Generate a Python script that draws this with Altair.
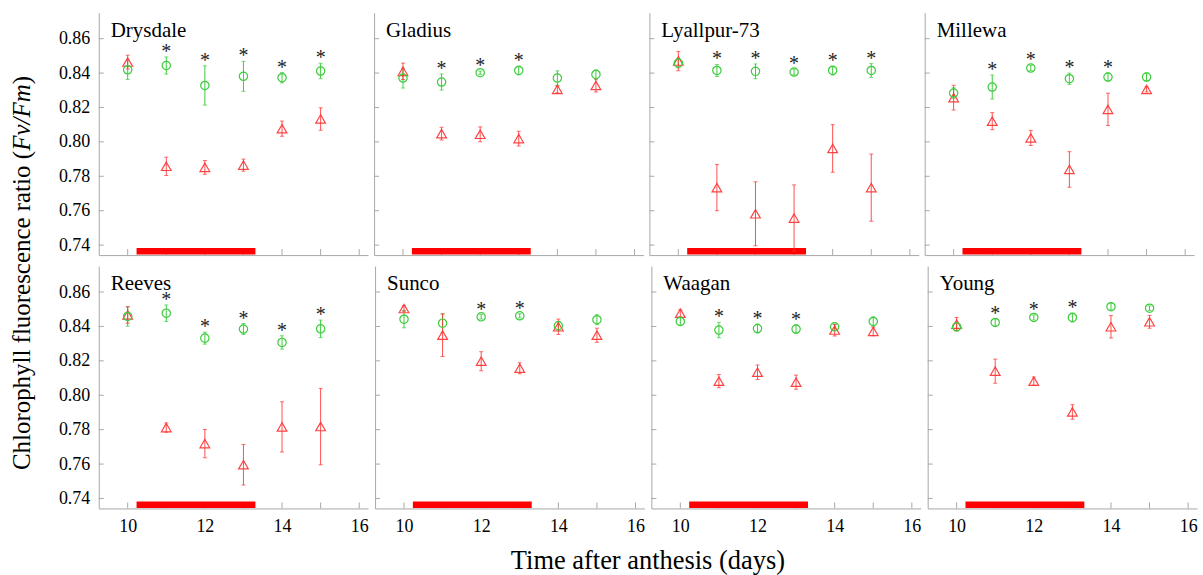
import altair as alt
import pandas as pd

cultivars = ["Drysdale", "Gladius", "Lyallpur-73", "Millewa",
             "Reeves", "Sunco", "Waagan", "Young"]
days = [10, 11, 12, 13, 14, 15]

control_mean = {
    "Drysdale":    [0.8419, 0.8444, 0.8328, 0.8381, 0.8373, 0.8412],
    "Gladius":     [0.8371, 0.8348, 0.8402, 0.8415, 0.8371, 0.8392],
    "Lyallpur-73": [0.8458, 0.8415, 0.8410, 0.8406, 0.8415, 0.8415],
    "Millewa":     [0.8284, 0.8319, 0.8429, 0.8367, 0.8377, 0.8377],
    "Reeves":      [0.8458, 0.8477, 0.8332, 0.8385, 0.8307, 0.8386],
    "Sunco":       [0.8442, 0.8419, 0.8456, 0.8462, 0.8404, 0.8439],
    "Waagan":      [0.8429, 0.8379, 0.8388, 0.8385, 0.8398, 0.8429],
    "Young":       [0.8398, 0.8423, 0.8452, 0.8452, 0.8515, 0.8506],
}
control_err = {
    "Drysdale":    [0.0056, 0.0050, 0.0114, 0.0087, 0.0030, 0.0045],
    "Gladius":     [0.0058, 0.0047, 0.0010, 0.0025, 0.0042, 0.0027],
    "Lyallpur-73": [0.0028, 0.0035, 0.0043, 0.0017, 0.0026, 0.0040],
    "Millewa":     [0.0030, 0.0070, 0.0016, 0.0033, 0.0023, 0.0023],
    "Reeves":      [0.0056, 0.0048, 0.0035, 0.0032, 0.0039, 0.0051],
    "Sunco":       [0.0050, 0.0054, 0.0013, 0.0012, 0.0025, 0.0029],
    "Waagan":      [0.0022, 0.0045, 0.0026, 0.0024, 0.0013, 0.0027],
    "Young":       [0.0020, 0.0020, 0.0015, 0.0026, 0.0019, 0.0013],
}
stress_mean = {
    "Drysdale":    [0.8464, 0.7858, 0.7852, 0.7865, 0.8077, 0.8133],
    "Gladius":     [0.8410, 0.8048, 0.8044, 0.8019, 0.8305, 0.8328],
    "Lyallpur-73": [0.8470, 0.7734, 0.7582, 0.7557, 0.7962, 0.7734],
    "Millewa":     [0.8257, 0.8120, 0.8023, 0.7840, 0.8189, 0.8305],
    "Reeves":      [0.8467, 0.7812, 0.7719, 0.7596, 0.7816, 0.7818],
    "Sunco":       [0.8504, 0.8349, 0.8198, 0.8157, 0.8398, 0.8349],
    "Waagan":      [0.8477, 0.8082, 0.8134, 0.8076, 0.8379, 0.8371],
    "Young":       [0.8413, 0.8140, 0.8082, 0.7903, 0.8398, 0.8427],
}
stress_err = {
    "Drysdale":    [0.0040, 0.0053, 0.0040, 0.0035, 0.0044, 0.0065],
    "Gladius":     [0.0048, 0.0037, 0.0043, 0.0043, 0.0020, 0.0038],
    "Lyallpur-73": [0.0056, 0.0135, 0.0186, 0.0193, 0.0138, 0.0195],
    "Millewa":     [0.0072, 0.0050, 0.0044, 0.0103, 0.0094, 0.0015],
    "Reeves":      [0.0048, 0.0027, 0.0082, 0.0118, 0.0146, 0.0222],
    "Sunco":       [0.0016, 0.0124, 0.0055, 0.0032, 0.0045, 0.0041],
    "Waagan":      [0.0020, 0.0039, 0.0042, 0.0041, 0.0034, 0.0025],
    "Young":       [0.0039, 0.0070, 0.0024, 0.0042, 0.0065, 0.0037],
}
significant = {
    "Drysdale":    [0, 1, 1, 1, 1, 1],
    "Gladius":     [0, 1, 1, 1, 0, 0],
    "Lyallpur-73": [0, 1, 1, 1, 1, 1],
    "Millewa":     [0, 1, 1, 1, 1, 0],
    "Reeves":      [0, 1, 1, 1, 1, 1],
    "Sunco":       [0, 0, 1, 1, 0, 0],
    "Waagan":      [0, 1, 1, 1, 0, 0],
    "Young":       [0, 1, 1, 1, 0, 0],
}
stress_start, stress_end = 10.23, 13.31
y_ticks = [0.74, 0.76, 0.78, 0.80, 0.82, 0.84, 0.86]
x_ticks = [10, 11, 12, 13, 14, 15, 16]
x_labels = [10, 12, 14, 16]

FONT = "Liberation Serif"
AX = "#a8a8a8"
GREEN = "#3ccc3c"
RED = "#ff3030"
W, H = 270, 243
XDOM = [9.25, 16.23]
YDOM = [0.7342, 0.8751]

xs = alt.Scale(domain=XDOM, nice=False, zero=False)
ys = alt.Scale(domain=YDOM, nice=False, zero=False)

ytick_df = pd.DataFrame({"v": y_ticks})
xtick_df = pd.DataFrame({"v": x_ticks})
bar_df = pd.DataFrame({"start": [stress_start], "end": [stress_end]})


def panel(i):
    name = cultivars[i]
    r, c = divmod(i, 4)
    df = pd.DataFrame({
        "day": days,
        "g": control_mean[name],
        "ge": control_err[name],
        "r": stress_mean[name],
        "re": stress_err[name],
        "sig": significant[name],
    })
    df["g_lo"] = df["g"] - df["ge"]
    df["g_hi"] = df["g"] + df["ge"]
    df["r_lo"] = df["r"] - df["re"]
    df["r_hi"] = df["r"] + df["re"]
    stars = df[df["sig"] == 1]

    xaxis = alt.Axis(values=x_labels, labels=(r == 1), tickSize=0, title=None,
                     grid=False, domainColor=AX, labelFont=FONT, labelFontSize=18,
                     labelColor="black", labelPadding=9)
    yaxis = alt.Axis(values=y_ticks, labels=(c == 0), tickSize=0, title=None,
                     grid=False, format=".2f", domainColor=AX, labelFont=FONT,
                     labelFontSize=18, labelColor="black", labelPadding=9)

    def X(f):
        return alt.X(f, scale=xs, axis=xaxis)

    def Y(f):
        return alt.Y(f, scale=ys, axis=yaxis)

    yt = alt.Chart(ytick_df).mark_rule(color=AX, strokeWidth=1).encode(
        y=Y("v:Q"), x=alt.value(0), x2=alt.value(5))
    xt = alt.Chart(xtick_df).mark_rule(color=AX, strokeWidth=1).encode(
        x=X("v:Q"), y=alt.value(H), y2=alt.value(H - 6))
    bar = alt.Chart(bar_df).mark_rect(color="#ff0000").encode(
        x=X("start:Q"), x2="end:Q",
        y=alt.value(H - 7), y2=alt.value(H - 0.5))

    base = alt.Chart(df)
    g_rule = base.mark_rule(color=GREEN, strokeWidth=1, clip=True).encode(
        x=X("day:Q"), y=Y("g_lo:Q"), y2="g_hi:Q")
    g_cap1 = base.mark_tick(color=GREEN, orient="horizontal", size=4, thickness=1).encode(
        x=X("day:Q"), y=Y("g_lo:Q"))
    g_cap2 = base.mark_tick(color=GREEN, orient="horizontal", size=4, thickness=1).encode(
        x=X("day:Q"), y=Y("g_hi:Q"))
    g_pt = base.mark_point(shape="circle", filled=False, size=70, strokeWidth=1.2,
                           color=GREEN, opacity=1).encode(
        x=X("day:Q"), y=Y("g:Q"))

    r_rule = base.mark_rule(color=RED, strokeWidth=1, opacity=0.85, clip=True).encode(
        x=X("day:Q"), y=Y("r_lo:Q"), y2="r_hi:Q")
    r_cap1 = base.mark_tick(color=RED, orient="horizontal", size=4, thickness=1,
                            clip=True).encode(
        x=X("day:Q"), y=Y("r_lo:Q"))
    r_cap2 = base.mark_tick(color=RED, orient="horizontal", size=4, thickness=1).encode(
        x=X("day:Q"), y=Y("r_hi:Q"))
    r_pt = base.mark_point(shape="triangle-up", filled=False, size=95, strokeWidth=1.2,
                           color=RED, opacity=0.9).encode(
        x=X("day:Q"), y=Y("r:Q"))

    star = alt.Chart(stars).mark_text(text="*", font=FONT, fontSize=20, color="#222222",
                                      baseline="alphabetic", dy=1).encode(
        x=X("day:Q"), y=Y("g_hi:Q"))

    label = alt.Chart(pd.DataFrame({"t": [name]})).mark_text(
        align="left", baseline="alphabetic", font=FONT, fontSize=21, color="black"
    ).encode(x=alt.value(12), y=alt.value(24), text="t:N")

    return alt.layer(yt, xt, bar, g_rule, g_cap1, g_cap2, r_rule, r_cap1, r_cap2,
                     r_pt, g_pt, star, label).properties(width=W, height=H)


row1 = alt.hconcat(*[panel(i) for i in range(4)], spacing=5)
row2 = alt.hconcat(*[panel(i) for i in range(4, 8)], spacing=5)
grid = alt.vconcat(row1, row2, spacing=10)

TH = 2 * H + 10
ysize = 25
w1 = 12.803 * ysize
w2 = 2.666 * ysize
w3 = 0.333 * ysize
ybot = TH / 2 + 13 + (w1 + w2 + w3) / 2
ypieces = [
    ("Chlorophyll fluorescence ratio (", "normal", ybot),
    ("Fv/Fm", "italic", ybot - w1),
    (")", "normal", ybot - w1 - w2),
]
ylayers = []
for txt, style, ypos in ypieces:
    ylayers.append(
        alt.Chart(pd.DataFrame({"t": [txt]})).mark_text(
            angle=270, align="left", baseline="middle", font=FONT,
            fontSize=ysize, fontStyle=style, color="black"
        ).encode(x=alt.value(17), y=alt.value(ypos), text="t:N")
    )
ytitle = alt.layer(*ylayers).properties(width=30, height=TH)

chart = alt.hconcat(ytitle, grid, spacing=23).properties(
    title=alt.TitleParams("Time after anthesis (days)", orient="bottom", anchor="middle",
                          font=FONT, fontSize=26.5, fontWeight="normal", color="black",
                          offset=13, dx=47),
    padding={"left": 5, "top": 12, "right": 5, "bottom": 0},
).configure_view(stroke=None).configure_axis(domainWidth=1)

chart.save("out.html", embed_options={"renderer": "svg", "actions": False})
